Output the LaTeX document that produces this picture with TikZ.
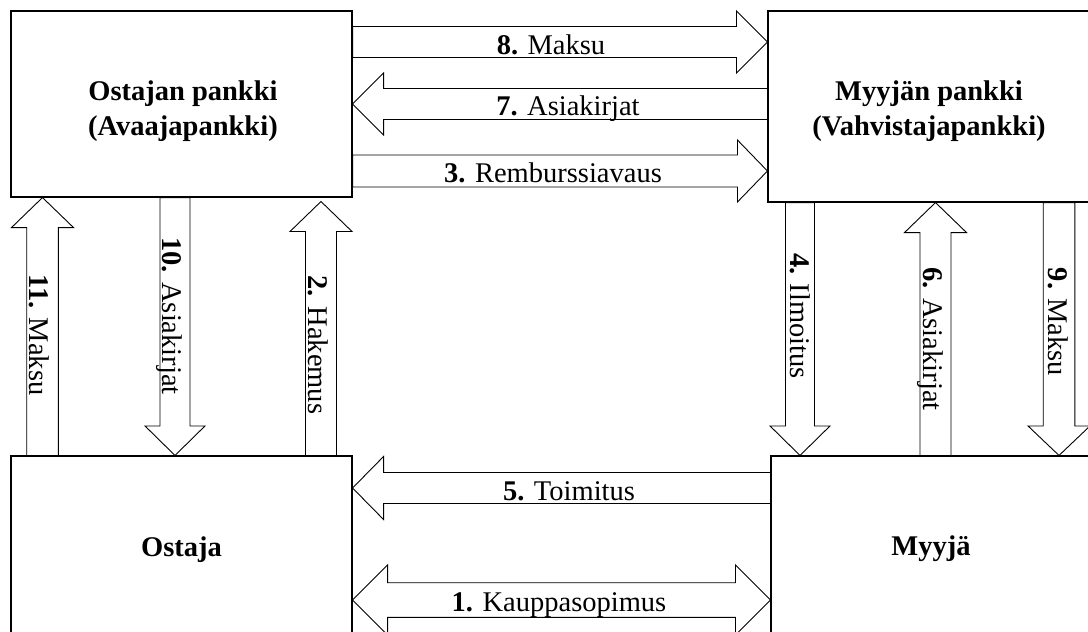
\documentclass[tikz,border=0pt]{standalone}
\usepackage{fontspec}
\setmainfont{Liberation Serif}
\usetikzlibrary{calc}
\tikzset{
  boxnode/.style={draw=black, line width=1.1pt, fill=white, rectangle, inner sep=0pt},
  arrowshape/.style={draw=black, line width=0.9pt, fill=white, line join=miter},
  lbl/.style={font=\fontsize{28.5}{35}\selectfont, inner sep=0pt},
  boxlbl/.style={font=\fontsize{28.5}{35}\selectfont\bfseries, inner sep=0pt, align=center},
}
\newcommand\blockarr[5]{%
  \coordinate (bah) at ($(#2)!#5!(#1)$);
  \draw[arrowshape] ($(#1)!#3!90:(#2)$) -- ($(bah)!#3!90:(#2)$) -- ($(bah)!#4!90:(#2)$) -- (#2) -- ($(bah)!#4!-90:(#2)$) -- ($(bah)!#3!-90:(#2)$) -- ($(#1)!#3!-90:(#2)$) -- cycle;
}
\newcommand\doublearr[5]{%
  \coordinate (dah1) at ($(#1)!#5!(#2)$);
  \coordinate (dah2) at ($(#2)!#5!(#1)$);
  \draw[arrowshape] (#1) -- ($(dah1)!#4!90:(#2)$) -- ($(dah1)!#3!90:(#2)$) -- ($(dah2)!#3!90:(#2)$) -- ($(dah2)!#4!90:(#2)$) -- (#2) -- ($(dah2)!#4!-90:(#2)$) -- ($(dah2)!#3!-90:(#2)$) -- ($(dah1)!#3!-90:(#2)$) -- ($(dah1)!#4!-90:(#2)$) -- cycle;
}
\begin{document}
\begin{tikzpicture}[x=1pt, y=-1pt]
\useasboundingbox (0,0) rectangle (1088,632);
\clip (0,0) rectangle (1088,632);

% boxes
\node[boxnode, minimum width=341pt, minimum height=186pt] (opank) at (181.5,104) {};
\node[boxnode, minimum width=322pt, minimum height=191pt] (mpank) at (929,106.5) {};
\node[boxnode, minimum width=341pt, minimum height=184pt] (ostaja) at (181.5,548) {};
\node[boxnode, minimum width=320pt, minimum height=184pt] (myyja) at (931,548) {};

\node[boxlbl] (opanklbl) at (183,110.9) {Ostajan pankki\\(Avaajapankki)};
\node[boxlbl] (mpanklbl) at (929,110.9) {Myyjän pankki\\(Vahvistajapankki)};
\node[boxlbl, anchor=base] (ostajalbl) at (181.5,556.7) {Ostaja};
\node[boxlbl, anchor=base] (myyjalbl) at (931,555) {Myyjä};

% horizontal arrows
\coordinate (t8) at (opank.east |- 0,42);
\coordinate (h8) at (mpank.west |- 0,42);
\blockarr{t8}{h8}{15.5pt}{31pt}{31pt}
\coordinate (t7) at (mpank.west |- 0,104);
\coordinate (h7) at (opank.east |- 0,104);
\blockarr{t7}{h7}{15.5pt}{31pt}{31pt}
\coordinate (t3) at (opank.east |- 0,171);
\coordinate (h3) at (mpank.west |- 0,171);
\blockarr{t3}{h3}{16pt}{31pt}{30pt}
\coordinate (t5) at (myyja.west |- 0,488);
\coordinate (h5) at (ostaja.east |- 0,488);
\blockarr{t5}{h5}{15.5pt}{31.5pt}{31pt}
\coordinate (a1) at (ostaja.east |- 0,600);
\coordinate (b1) at (myyja.west |- 0,600);
\doublearr{a1}{b1}{17.3pt}{35pt}{35pt}

% vertical arrows (left)
\coordinate (t11) at (ostaja.north -| 42.5,0);
\coordinate (h11) at (opank.south -| 42.5,0);
\blockarr{t11}{h11}{15.8pt}{31pt}{30pt}
\coordinate (t10) at (opank.south -| 175,0);
\coordinate (h10) at (ostaja.north -| 175,0);
\blockarr{t10}{h10}{15pt}{30pt}{29.5pt}
\coordinate (t2) at (ostaja.north -| 321,0);
\coordinate (h2) at (321,201.5);
\blockarr{t2}{h2}{15.5pt}{31pt}{30pt}

% vertical arrows (right)
\coordinate (t4) at (mpank.south -| 800,0);
\coordinate (h4) at (myyja.north -| 800,0);
\blockarr{t4}{h4}{14.5pt}{30pt}{29.5pt}
\coordinate (t6) at (myyja.north -| 935.5,0);
\coordinate (h6) at (mpank.south -| 935.5,0);
\blockarr{t6}{h6}{15.5pt}{31pt}{30pt}
\coordinate (t9) at (mpank.south -| 1059,0);
\coordinate (h9) at (myyja.north -| 1059,0);
\blockarr{t9}{h9}{15.8pt}{31pt}{29.5pt}

% labels
\node[lbl, anchor=base] (l8) at (551,54.3) {\textbf{8.} Maksu};
\node[lbl, anchor=base] (l7) at (568,115) {\textbf{7.} Asiakirjat};
\node[lbl, anchor=base] (l3) at (553,182.7) {\textbf{3.} Remburssiavaus};
\node[lbl, anchor=base] (l5) at (569,500) {\textbf{5.} Toimitus};
\node[lbl, anchor=base] (l1) at (559,611.7) {\textbf{1.} Kauppasopimus};

\node[lbl, anchor=base, rotate=-90] (l11) at (29.5,335) {\textbf{11.} Maksu};
\node[lbl, anchor=base, rotate=-90] (l10) at (162,316) {\textbf{10.} Asiakirjat};
\node[lbl, anchor=base, rotate=-90] (l2) at (308.3,345) {\textbf{2.} Hakemus};
\node[lbl, anchor=base, rotate=-90] (l4) at (790,316) {\textbf{4.} Ilmoitus};
\node[lbl, anchor=base, rotate=-90] (l6) at (923.3,339) {\textbf{6.} Asiakirjat};
\node[lbl, anchor=base, rotate=-90] (l9) at (1048.3,322) {\textbf{9.} Maksu};
\end{tikzpicture}
\end{document}
